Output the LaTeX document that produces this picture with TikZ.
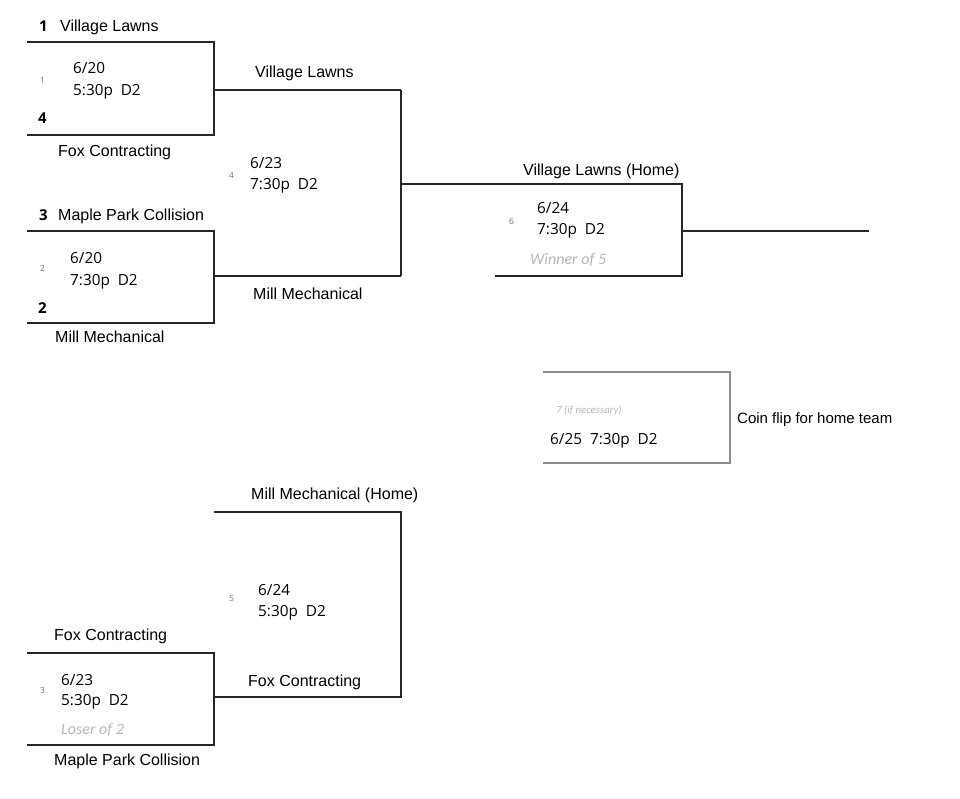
\documentclass[tikz,border=0pt]{standalone}
\usepackage{fontspec}
\setmainfont{Liberation Sans}
\newfontfamily\datef{Open Sans}
\newfontfamily\notef{Carlito}
\begin{document}
\begin{tikzpicture}[x=1pt,y=-1pt,
  br/.style={line width=1.6pt, draw=black!85},
  graybox/.style={line width=1.6pt, draw=black!45},
  team/.style={anchor=base west, inner sep=0, font=\fontsize{16}{18}\selectfont},
  dt/.style={anchor=base west, inner sep=0, font=\datef\fontsize{15.3}{18}\selectfont},
  seed/.style={anchor=base west, inner sep=0, font=\datef\bfseries\fontsize{15}{18}\selectfont},
  gm/.style={anchor=base west, inner sep=0, text=black!55, font=\datef\fontsize{8.5}{9}\selectfont},
  note/.style={anchor=base west, inner sep=0, text=black!28, font=\notef\itshape\fontsize{16}{18}\selectfont},
  tiny/.style={anchor=base west, inner sep=0, text=black!28, font=\notef\itshape\fontsize{10.8}{12}\selectfont}]
\useasboundingbox[fill=white] (0,0) rectangle (960,799);
% Game 1
\draw[br] (27,42) -| (214,135) -- (27,135);
\draw[br] (214,90) -- (401,90);
% Game 2
\draw[br] (27,231) -| (214,323) -- (27,323);
\draw[br] (214,276) -- (401,276);
% Game 4 and Game 6
\draw[br] (401,90) -- (401,276);
\draw[br] (401,184) -| (682,276) -- (495,276);
\draw[br] (682,231) -- (869,231);
% Game 7
\draw[graybox] (543,372) -| (730,463) -- (543,463);
% Game 5
\draw[br] (214,512) -| (401,697) -- (214,697);
% Game 3
\draw[br] (27,653) -| (214,745) -- (27,745);

% Game 1 texts
\node[seed] (s1) at (39,32) {1};
\node[team] (t1) at (60,32) {Village Lawns};
\node[gm] (g1) at (40,84) {1};
\node[dt] (d1a) at (73,74) {6/20};
\node[dt] (d1b) at (73,96) {5:30p\ \ D2};
\node[seed] (s4) at (38,124) {4};
\node[team] (t4) at (58,157) {Fox Contracting};
% Game 2 texts
\node[seed] (s3) at (39,221) {3};
\node[team] (t3) at (58,221) {Maple Park Collision};
\node[gm] (g2) at (40,272) {2};
\node[dt] (d2a) at (70,264) {6/20};
\node[dt] (d2b) at (70,286) {7:30p\ \ D2};
\node[seed] (s2) at (38,313) {2};
\node[team] (t2) at (55,342) {Mill Mechanical};
% Game 4 texts
\node[team] (w1) at (255,78) {Village Lawns};
\node[gm] (g4) at (229,179) {4};
\node[dt] (d4a) at (250,169) {6/23};
\node[dt] (d4b) at (250,190) {7:30p\ \ D2};
\node[team] (w2) at (253,299) {Mill Mechanical};
% Game 6 texts
\node[team] (w4) at (523,176) {Village Lawns (Home)};
\node[gm] (g6) at (509,225) {6};
\node[dt] (d6a) at (537,214) {6/24};
\node[dt] (d6b) at (537,235) {7:30p\ \ D2};
\node[note] (n6) at (530,265) {Winner of 5};
% Game 7 texts
\node[tiny] (g7) at (556,413) {7 (if necessary)};
\node[dt] (d7) at (550,444) {6/25\ \ 7:30p\ \ D2};
\node[team, font=\fontsize{15}{18}\selectfont] (coin) at (737,423) {Coin flip for home team};
% Game 5 texts
\node[team] (l2) at (251,499) {Mill Mechanical (Home)};
\node[gm] (g5) at (229,601) {5};
\node[dt] (d5a) at (258,595) {6/24};
\node[dt] (d5b) at (258,616) {5:30p\ \ D2};
\node[team] (w3) at (248,686) {Fox Contracting};
% Game 3 texts
\node[team] (l1) at (54,640) {Fox Contracting};
\node[gm] (g3) at (40,693) {3};
\node[dt] (d3a) at (61,685) {6/23};
\node[dt] (d3b) at (61,705) {5:30p\ \ D2};
\node[note] (n3) at (61,734) {Loser of 2};
\node[team] (l3) at (54,765) {Maple Park Collision};
\end{tikzpicture}
\end{document}
